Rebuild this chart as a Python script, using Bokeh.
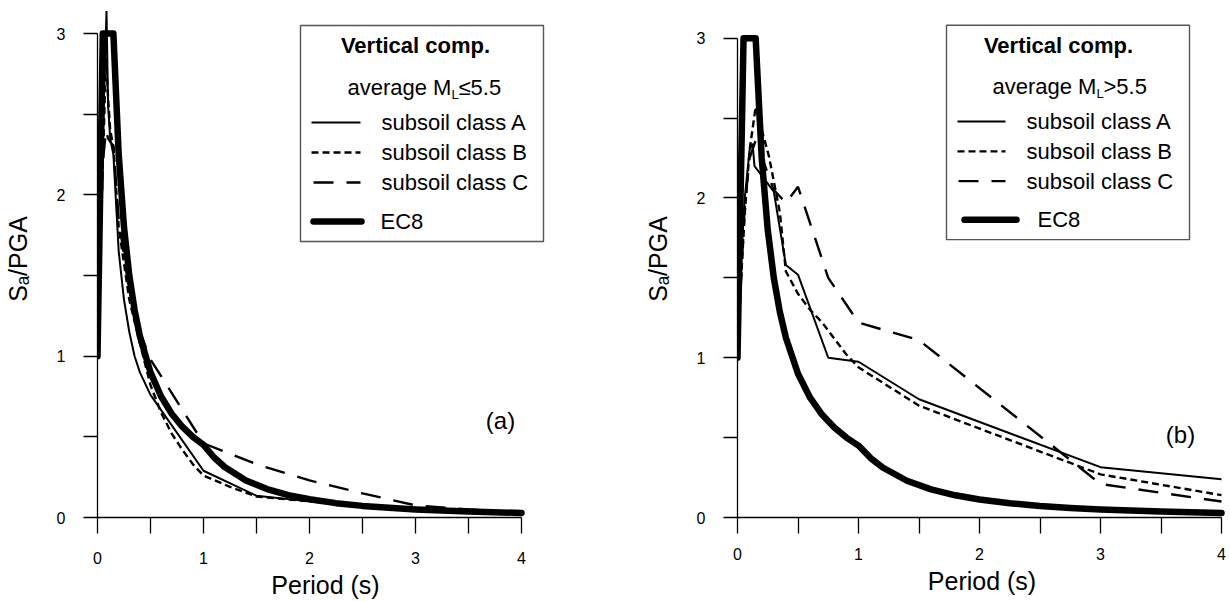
from bokeh.plotting import figure
from bokeh.layouts import row
from bokeh.models import Range1d, FixedTicker
from bokeh.embed import file_html
from bokeh.resources import INLINE
from bokeh.core.properties import value

# ---------------- data ----------------
# EC8 vertical elastic spectrum (normalised)
T_EC8 = [0, 0.05, 0.15, 0.2, 0.25, 0.3, 0.35, 0.4, 0.5, 0.6, 0.7, 0.8, 0.9, 1.0,
         1.1, 1.2, 1.4, 1.6, 1.8, 2.0, 2.25, 2.5, 2.75, 3.0, 3.5, 4.0]
SA_EC8 = [1.0, 3.0, 3.0, 2.25, 1.8, 1.5, 1.286, 1.125, 0.9, 0.75, 0.643, 0.563, 0.5, 0.45,
          0.372, 0.313, 0.23, 0.176, 0.139, 0.113, 0.089, 0.072, 0.06, 0.05, 0.037, 0.028]

# panel (a): average ML <= 5.5
T_A_a = [0, 0.03, 0.06, 0.085, 0.1, 0.12, 0.15, 0.2, 0.25, 0.3, 0.35, 0.4, 0.5, 1.0, 1.5,
         2.0, 2.5, 3.0, 3.5, 4.0]
SA_A_a = [1.0, 1.9, 2.6, 3.14, 2.55, 2.35, 2.25, 1.65, 1.35, 1.15, 1.0, 0.9, 0.76, 0.29, 0.135,
          0.1, 0.07, 0.045, 0.035, 0.025]
T_B_a = [0, 0.03, 0.06, 0.08, 0.1, 0.12, 0.15, 0.2, 0.3, 0.4, 0.5, 0.6, 0.7, 0.8, 0.9, 1.0,
         1.25, 1.5, 2.0, 2.5, 3.0, 3.5, 4.0]
SA_B_a = [1.0, 1.8, 2.4, 2.85, 2.6, 2.4, 2.3, 1.8, 1.35, 1.08, 0.82, 0.65, 0.52, 0.42, 0.33, 0.26,
          0.19, 0.13, 0.1, 0.075, 0.05, 0.035, 0.025]
T_C_a = [0, 0.03, 0.05, 0.08, 0.1, 0.15, 0.2, 0.3, 0.4, 0.5, 1.0, 1.5, 2.0, 2.5, 3.0, 3.5, 4.0]
SA_C_a = [1.0, 1.7, 2.2, 2.4, 2.35, 2.3, 1.85, 1.4, 1.15, 0.98, 0.46, 0.33, 0.23, 0.15, 0.075,
          0.05, 0.03]

# panel (b): average ML > 5.5
T_A_b = [0, 0.03, 0.06, 0.1, 0.125, 0.14, 0.23, 0.3, 0.4, 0.5, 0.75, 1.0, 1.5, 3.0, 4.0]
SA_A_b = [1.0, 1.6, 2.0, 2.3, 2.34, 2.2, 2.11, 2.04, 1.58, 1.52, 1.0, 0.975, 0.74, 0.315, 0.24]
T_B_b = [0, 0.03, 0.06, 0.1, 0.15, 0.26, 0.35, 0.4, 0.5, 0.6, 0.7, 0.8, 0.9, 1.0, 1.5, 3.0, 4.0]
SA_B_b = [1.0, 1.5, 1.9, 2.3, 2.57, 2.26, 1.91, 1.54, 1.4, 1.3, 1.22, 1.12, 1.02, 0.94, 0.7,
          0.27, 0.14]
T_C_b = [0, 0.03, 0.06, 0.1, 0.15, 0.3, 0.4, 0.5, 0.75, 1.0, 1.5, 3.0, 4.0]
SA_C_b = [1.0, 1.5, 1.95, 2.25, 2.36, 2.05, 1.97, 2.07, 1.5, 1.22, 1.11, 0.21, 0.1]

X_TICKS = [0, 1, 2, 3, 4]
X_MINOR = [0.5, 1.5, 2.5, 3.5]
Y_TICKS = [0, 1, 2, 3]
Y_MINOR = [0.5, 1.5, 2.5]

LEGEND_LABELS = ["subsoil class A", "subsoil class B", "subsoil class C", "EC8"]

# ---------------- layout ----------------
FONT = "Liberation Sans"
FIG_H = 601

STYLE_A = dict(line_color="black", line_width=2.0)
STYLE_B = dict(line_color="black", line_width=2.4, line_dash="7 4")
STYLE_C = dict(line_color="black", line_width=2.4, line_dash="20 13")
STYLE_E = dict(line_color="black", line_width=6.5, line_join="round", line_cap="round")


def make_panel(page_left, b_left, frame_w, b_right, xscale, frame_bottom, yscale,
               tick_standoff, curves, mag_op, legend, tag, tag_px):
    frame_left_page = page_left + b_left
    x_end = frame_w / xscale
    y_end = frame_bottom / yscale
    b_bottom = FIG_H - frame_bottom
    p = figure(width=b_left + frame_w + b_right, height=FIG_H,
               x_range=Range1d(0, x_end), y_range=Range1d(0, y_end),
               output_backend="svg", toolbar_location=None,
               min_border_left=b_left, min_border_right=b_right,
               min_border_top=0, min_border_bottom=b_bottom)
    p.outline_line_color = None
    p.xgrid.visible = False
    p.ygrid.visible = False
    p.background_fill_color = "white"
    p.border_fill_color = "white"

    def tx(px):
        return (px - frame_left_page) / xscale

    def ty(py):
        return (frame_bottom - py) / yscale

    # axes
    p.xaxis.ticker = FixedTicker(ticks=X_TICKS, minor_ticks=X_MINOR)
    p.yaxis.ticker = FixedTicker(ticks=Y_TICKS, minor_ticks=Y_MINOR)
    p.xaxis.bounds = (0, 4)
    p.yaxis.bounds = (0, 3)
    for ax in (p.xaxis, p.yaxis):
        ax.axis_line_color = "black"
        ax.axis_line_width = 1.3
        ax.major_tick_line_color = "black"
        ax.minor_tick_line_color = "black"
        ax.major_tick_line_width = 1.3
        ax.minor_tick_line_width = 1.3
        ax.major_tick_in = 0
        ax.minor_tick_in = 0
        ax.major_label_text_font = FONT
        ax.major_label_text_font_size = "16px"
        ax.major_label_text_color = "black"
        ax.axis_label_text_font = FONT
        ax.axis_label_text_font_size = "25px"
        ax.axis_label_text_font_style = "normal"
        ax.axis_label_text_color = "black"
    p.xaxis.major_tick_out = 16
    p.xaxis.minor_tick_out = 16
    p.yaxis.major_tick_out = 14
    p.yaxis.minor_tick_out = 14
    p.xaxis.major_label_standoff = tick_standoff
    p.yaxis.major_label_standoff = 18
    p.xaxis.axis_label = "Period (s)"
    p.yaxis.axis_label = "S\u2090/PGA"
    p.xaxis.axis_label_standoff = 4
    p.yaxis.axis_label_standoff = 22

    # curves
    (tE, sE), (tA, sA), (tB, sB), (tC, sC) = curves
    p.line(tE, sE, **STYLE_E)
    p.line(tC, sC, **STYLE_C)
    p.line(tB, sB, **STYLE_B)
    p.line(tA, sA, **STYLE_A)

    # legend box
    bl, br, bt, bb = legend["box"]
    p.quad(left=[tx(bl)], right=[tx(br)], top=[ty(bt)], bottom=[ty(bb)],
           fill_color="white", line_color="#555555", line_width=1.4)
    # title
    p.text(x=[tx(legend["title_x"])], y=[ty(45)], text=["Vertical comp."],
           text_font=value(FONT), text_font_size=value("22px"),
           text_font_style="bold", text_align="center", text_baseline="middle",
           text_color="black")
    # magnitude line with subscript L
    mx = legend["mag_x"]
    p.text(x=[tx(mx)], y=[ty(87)], text=["average M"],
           text_font=value(FONT), text_font_size=value("22px"),
           text_align="left", text_baseline="middle", text_color="black")
    p.text(x=[tx(mx + 104)], y=[ty(94)], text=["L"],
           text_font=value(FONT), text_font_size=value("13px"),
           text_align="left", text_baseline="middle", text_color="black")
    p.text(x=[tx(mx + 111)], y=[ty(87)], text=[mag_op + "5.5"],
           text_font=value(FONT), text_font_size=value("22px"),
           text_align="left", text_baseline="middle", text_color="black")
    # entries
    rows_y = [122, 152, 182, 221]
    styles = [STYLE_A, STYLE_B, STYLE_C, STYLE_E]
    for i, (lab, st) in enumerate(zip(LEGEND_LABELS, styles)):
        x1, x2, xt = legend["entries"][i]
        p.line([tx(x1), tx(x2)], [ty(rows_y[i]), ty(rows_y[i])], **st)
        p.text(x=[tx(xt)], y=[ty(rows_y[i])], text=[lab],
               text_font=value(FONT), text_font_size=value("22px"),
               text_align="left", text_baseline="middle", text_color="black")
    # panel tag
    p.text(x=[tx(tag_px[0])], y=[ty(tag_px[1])], text=[tag],
           text_font=value(FONT), text_font_size=value("24px"),
           text_align="center", text_baseline="middle", text_color="black")
    return p


left = make_panel(
    page_left=0, b_left=97, frame_w=456, b_right=10, xscale=106.0,
    frame_bottom=517, yscale=161.3, tick_standoff=18,
    curves=[(T_EC8, SA_EC8), (T_A_a, SA_A_a), (T_B_a, SA_B_a), (T_C_a, SA_C_a)],
    mag_op="\u2264",
    legend=dict(box=(300, 543, 25, 241), title_x=415, mag_x=347,
                entries=[(311, 360, 381), (311, 360, 381), (313, 360, 381),
                         (313, 361, 380)]),
    tag="(a)", tag_px=(500, 420))

right = make_panel(
    page_left=563, b_left=174, frame_w=489, b_right=4, xscale=121.0,
    frame_bottom=521, yscale=161.0, tick_standoff=14,
    curves=[(T_EC8, SA_EC8), (T_A_b, SA_A_b), (T_B_b, SA_B_b), (T_C_b, SA_C_b)],
    mag_op=">",
    legend=dict(box=(946, 1189, 25, 241), title_x=1058, mag_x=992,
                entries=[(957, 1005, 1026), (957, 1005, 1026), (958, 1005, 1026),
                         (964, 1016, 1037)]),
    tag="(b)", tag_px=(1180, 437))

layout = row(left, right)
open("out.html", "w").write(file_html(layout, INLINE))
